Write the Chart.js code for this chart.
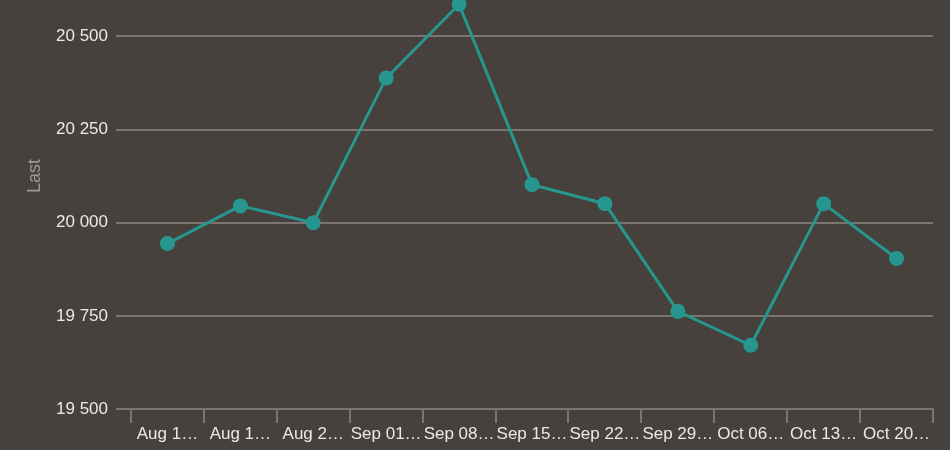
<!DOCTYPE html>
<html>
<head>
<meta charset="utf-8">
<script src="https://cdn.jsdelivr.net/npm/chart.js@4/dist/chart.umd.min.js"></script>
<style>
  html, body { margin: 0; padding: 0; background: #46413d; overflow: hidden; }
  #wrap { width: 950px; height: 450px; overflow: hidden; position: relative; }
  #box { position: absolute; left: 0; top: -75px; width: 950px; height: 525px; }
</style>
</head>
<body>
<div id="wrap"><div id="box"><canvas id="chart"></canvas></div></div>
<script>
const weeks = ["Aug 11, 2025", "Aug 18, 2025", "Aug 25, 2025", "Sep 01, 2025", "Sep 08, 2025",
  "Sep 15, 2025", "Sep 22, 2025", "Sep 29, 2025", "Oct 06, 2025", "Oct 13, 2025", "Oct 20, 2025"];
const weekTickLabels = ["Aug 1…", "Aug 1…", "Aug 2…", "Sep 01…", "Sep 08…", "Sep 15…",
  "Sep 22…", "Sep 29…", "Oct 06…", "Oct 13…", "Oct 20…"];
const lastValues = [19944, 20045, 20000, 20388, 20586, 20102, 20051, 19762, 19671, 20051, 19904];
const yTicks = [19500, 19750, 20000, 20250, 20500, 20750];

const fontFamily = "'Liberation Sans', Arial, sans-serif";
const fmt = v => String(v).replace(/\B(?=(\d{3})+(?!\d))/g, " ");

new Chart(document.getElementById("chart"), {
  type: "line",
  data: {
    labels: weeks,
    datasets: [{
      label: "Last",
      data: lastValues,
      borderColor: "#27968f",
      backgroundColor: "#27968f",
      borderWidth: 3,
      pointRadius: 6,
      pointHoverRadius: 6,
      tension: 0
    }]
  },
  options: {
    responsive: true,
    maintainAspectRatio: false,
    animation: false,
    layout: { padding: { left: 0, right: 17, top: 0, bottom: 0 } },
    plugins: {
      legend: { display: false },
      tooltip: { enabled: false }
    },
    scales: {
      x: {
        offset: true,
        grid: {
          offset: true,
          drawOnChartArea: false,
          color: "#7a7571",
          tickLength: 14,
          lineWidth: 2
        },
        border: { color: "#7a7571", width: 2 },
        ticks: {
          color: "#ebe8e5",
          font: { family: fontFamily, size: 17 },
          maxRotation: 0,
          autoSkip: false,
          padding: 1,
          callback: (value, i) => weekTickLabels[i]
        },
        afterFit: scale => { scale.height = 41; }
      },
      y: {
        min: 19500,
        max: 20750,
        afterBuildTicks: scale => {
          scale.ticks = yTicks.map(v => ({ value: v }));
        },
        grid: {
          color: "#7a7571",
          lineWidth: 2,
          tickLength: 15
        },
        border: { display: false },
        ticks: {
          color: "#ebe8e5",
          font: { family: fontFamily, size: 17 },
          padding: 8,
          callback: v => fmt(v)
        },
        title: {
          display: true,
          text: "Last",
          color: "#9d9894",
          font: { family: fontFamily, size: 18 },
          padding: { top: 24, bottom: 0 }
        },
        afterFit: scale => { scale.width = 131; }
      }
    }
  }
});
</script>
</body>
</html>
